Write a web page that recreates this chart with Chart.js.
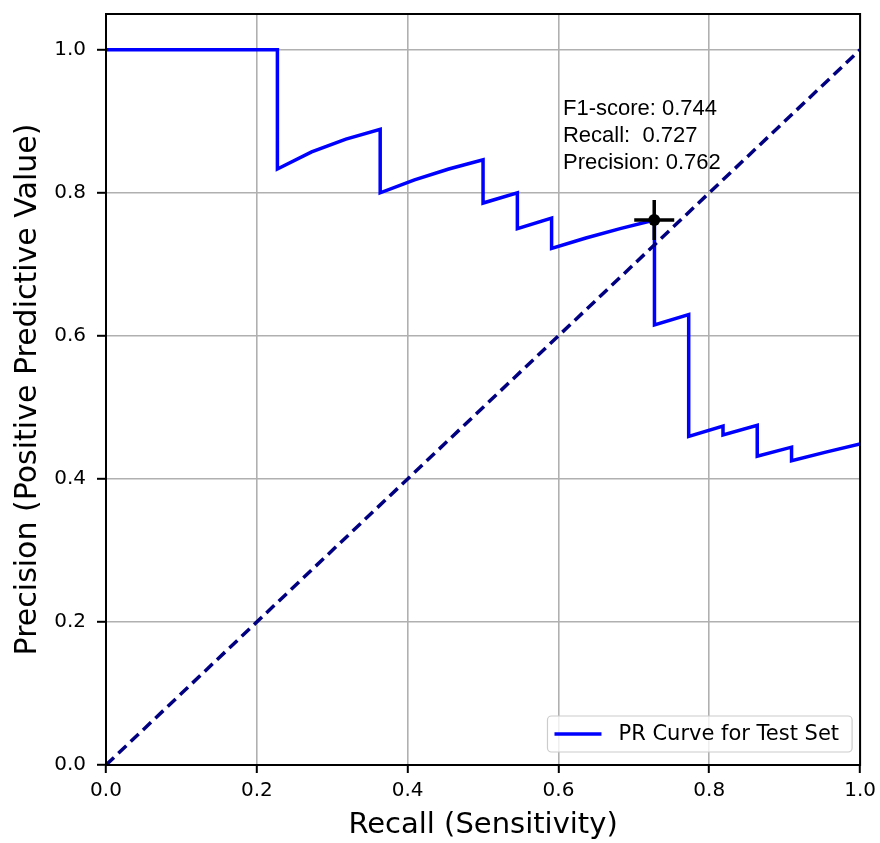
<!DOCTYPE html>
<html>
<head>
<meta charset="utf-8">
<script src="https://cdn.jsdelivr.net/npm/chart.js@4.4.1/dist/chart.umd.min.js"></script>
<style>
  html, body { margin: 0; padding: 0; background: #ffffff; }
  #wrap { position: relative; width: 880px; height: 843px; overflow: hidden; }
  #c { position: absolute; left: 0; top: -9px; }
</style>
</head>
<body>
<div id="wrap"><canvas id="c" width="882" height="852"></canvas></div>
<script>
// ---- data ----
const recall = [0, 0.2273, 0.2273, 0.2727, 0.3182, 0.3636, 0.3636, 0.4091, 0.4545, 0.5, 0.5,
  0.5455, 0.5455, 0.5909, 0.5909, 0.6364, 0.6818, 0.7273, 0.7273, 0.7727, 0.7727,
  0.8182, 0.8182, 0.8636, 0.8636, 0.9091, 0.9091, 0.9545, 1.0];
const precision = [1.0, 1.0, 0.8333, 0.8571, 0.875, 0.8889, 0.8, 0.8182, 0.8333, 0.8462, 0.7857,
  0.8, 0.75, 0.7647, 0.7222, 0.7368, 0.75, 0.7619, 0.6154, 0.6296, 0.4595,
  0.4737, 0.4615, 0.475, 0.4318, 0.4444, 0.4255, 0.4375, 0.449];
const diagX = [0, 1];
const diagY = [0, 1];
const bestRecall = 0.727;
const bestPrecision = 0.762;
const annotLines = ['F1-score: 0.744', 'Recall:  0.727', 'Precision: 0.762'];
const annotPos = [0.606, 0.909];
const xTicks = [0, 0.2, 0.4, 0.6, 0.8, 1.0];
const yTicks = [0, 0.2, 0.4, 0.6, 0.8, 1.0];
const curveLabel = 'PR Curve for Test Set';
const xTitle = 'Recall (Sensitivity)';
const yTitle = 'Precision (Positive Predictive Value)';

const toPts = (xs, ys) => xs.map((x, i) => ({x: x, y: ys[i]}));

const overlay = {
  id: 'overlay',
  afterDatasetsDraw(chart) {
    const ctx = chart.ctx;
    const a = chart.chartArea;
    const xs = chart.scales.x, ys = chart.scales.y;
    ctx.save();
    // frame
    ctx.strokeStyle = '#000';
    ctx.lineWidth = 2;
    ctx.strokeRect(a.left, a.top, a.right - a.left, a.bottom - a.top);
    // annotation text
    ctx.fillStyle = '#000';
    ctx.font = '22px "Liberation Sans", Arial, sans-serif';
    ctx.textAlign = 'left';
    ctx.textBaseline = 'alphabetic';
    const tx = xs.getPixelForValue(annotPos[0]);
    const ty = ys.getPixelForValue(annotPos[1]);
    annotLines.forEach((t, i) => ctx.fillText(t, tx, ty + i * 27));
    // legend (inside plot, lower right)
    const ds = chart.data.datasets.find(d => d.label === curveLabel);
    ctx.font = '21px "DejaVu Sans", sans-serif';
    const tw = ctx.measureText(ds.label).width;
    const bw = tw + 84, bh = 36;
    const bx = a.right - 8 - bw, by = a.bottom - 13 - bh;
    ctx.beginPath();
    if (ctx.roundRect) ctx.roundRect(bx, by, bw, bh, 4); else ctx.rect(bx, by, bw, bh);
    ctx.fillStyle = 'rgba(255,255,255,0.8)';
    ctx.fill();
    ctx.strokeStyle = '#cccccc';
    ctx.lineWidth = 1.2;
    ctx.stroke();
    ctx.beginPath();
    ctx.moveTo(bx + 7, by + bh / 2);
    ctx.lineTo(bx + 54, by + bh / 2);
    ctx.strokeStyle = ds.borderColor;
    ctx.lineWidth = 3.5;
    ctx.stroke();
    ctx.fillStyle = '#000';
    ctx.textBaseline = 'middle';
    ctx.fillText(ds.label, bx + 71, by + bh / 2 + 1);
    ctx.restore();
  }
};

new Chart(document.getElementById('c'), {
  type: 'scatter',
  data: {
    datasets: [
      { label: 'best-dot', data: [{x: bestRecall, y: bestPrecision}], pointStyle: 'circle',
        pointRadius: 6, backgroundColor: '#000', borderColor: '#000', borderWidth: 0, showLine: false },
      { label: 'best-cross', data: [{x: bestRecall, y: bestPrecision}], pointStyle: 'cross',
        pointRadius: 20, borderColor: '#000', borderWidth: 3.5, showLine: false },
      { label: 'diagonal', data: toPts(diagX, diagY), showLine: true, borderColor: '#000080',
        borderWidth: 3.5, borderDash: [11, 6], pointRadius: 0, fill: false },
      { label: curveLabel, data: toPts(recall, precision), showLine: true, borderColor: '#0000ff',
        borderWidth: 3.5, pointRadius: 0, fill: false, tension: 0 }
    ]
  },
  options: {
    responsive: false,
    animation: false,
    layout: { autoPadding: false, padding: { left: 0, right: 0, top: 0, bottom: 0 } },
    plugins: { legend: { display: false }, tooltip: { enabled: false } },
    scales: {
      x: {
        type: 'linear', min: 0, max: 1,
        afterFit: s => { s.height = 78; },
        afterBuildTicks: s => { s.ticks = xTicks.map(v => ({value: v})); },
        ticks: { callback: v => v.toFixed(1), color: '#000', padding: 6,
          font: { family: '"DejaVu Sans", sans-serif', size: 20 }, maxRotation: 0 },
        grid: { color: '#b0b0b0', lineWidth: 1.6, tickLength: 8, tickColor: '#000', tickWidth: 2 },
        border: { display: true, color: '#000', width: 2 },
        title: { display: true, text: xTitle, color: '#000', padding: { top: 0, bottom: 0 },
          font: { family: '"DejaVu Sans", sans-serif', size: 29 } }
      },
      y: {
        type: 'linear', min: 0, max: 1.05,
        afterFit: s => { s.width = 106; },
        afterBuildTicks: s => { s.ticks = yTicks.map(v => ({value: v})); },
        ticks: { callback: v => v.toFixed(1), color: '#000', padding: 11,
          font: { family: '"DejaVu Sans", sans-serif', size: 20 } },
        grid: { color: '#b0b0b0', lineWidth: 1.6, tickLength: 9, tickColor: '#000', tickWidth: 2 },
        border: { display: true, color: '#000', width: 2 },
        title: { display: true, text: yTitle, color: '#000', padding: { top: 10, bottom: 0 },
          font: { family: '"DejaVu Sans", sans-serif', size: 30 } }
      }
    }
  },
  plugins: [overlay]
});
</script>
</body>
</html>
